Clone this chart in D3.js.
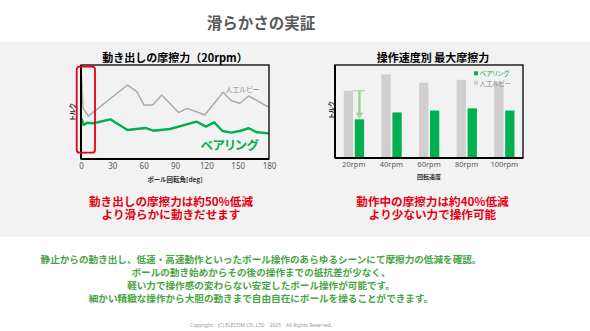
<!DOCTYPE html>
<html><head><meta charset="utf-8">
<script src="https://cdn.jsdelivr.net/npm/d3@7"></script>
<style>
html,body{margin:0;padding:0;background:#fff;}
body{position:relative;width:590px;height:331px;overflow:hidden;}
svg{display:block;font-family:"Noto Sans CJK JP","Noto Sans",sans-serif;}
.palt{font-feature-settings:"palt" 1;}
.cap{position:absolute;width:240px;text-align:center;font-family:"Noto Sans CJK JP",sans-serif;font-weight:bold;
  font-size:11.6px;line-height:12.9px;color:#e60012;white-space:nowrap;}
</style></head>
<body>
<svg id="c" width="590" height="331"></svg>
<script>
// ---- data ----
const lineDeg     = [0,2,7,44.5,53.4,60.4,68.7,77.3,93.5,101.7,118.6,136,144,152,160.6,180];
const rubyValues  = [97,54,45.7,78.7,71.6,57.4,57.4,68.1,49.5,53.9,46.8,71,62,59.3,67,55];
const bearDeg     = [0,0.8,2.5,5.7,12,28,44.5,61.4,69.3,85.2,110.7,119.6,127.5,135.5,144,152,160.6,168.5,180];
const bearValues  = [36.2,42.2,36.2,38.6,38,42.2,30.9,33,30.1,31.9,39.7,34.4,39,29.8,28,29.8,32.7,28.4,27.3];
const degTicks    = [0,30,60,90,120,150,180];

const speedCats   = ["20rpm","40rpm","60rpm","80rpm","100rpm"];
const rubyMax     = [72.3,90,81,84,82];
const bearMax     = [41.6,49,51,53.4,51];

const seriesNames = ["ベアリング","人工ルビー"];

const GREEN = "#00b050", GRAY_BAR = "#d0cece", GRAY_LINE = "#aaaaaa", RED = "#e60012";

const svg = d3.select("#c");
svg.append("rect").attr("x",0).attr("y",42).attr("width",590).attr("height",195).attr("fill","#f2f2f2");

svg.append("text").attr("x",261).attr("y",22).attr("text-anchor","middle").attr("dominant-baseline","central")
  .attr("font-size",15.5).attr("font-weight","bold").attr("fill","#595959").text("滑らかさの実証");

// ---------- Left chart ----------
const L = {x0:81, x1:269, y0:65, y1:159};
const xL = d3.scaleLinear().domain([0,180]).range([L.x0,L.x1]);
const yL = d3.scaleLinear().domain([0,100]).range([L.y1,L.y0]);
const gL = svg.append("g");
gL.append("text").attr("x",(L.x0+L.x1)/2).attr("y",56.5).attr("text-anchor","middle").attr("dominant-baseline","central")
  .attr("font-size",11).attr("font-weight","bold").attr("fill","#000").text("動き出しの摩擦力（20rpm）");

const line = d3.line().x(d=>xL(d[0])).y(d=>yL(d[1]));
gL.append("path").datum(lineDeg.map((d,i)=>[d,rubyValues[i]])).attr("d",line)
  .attr("fill","none").attr("stroke",GRAY_LINE).attr("stroke-width",1.5).attr("stroke-linejoin","round");
gL.append("path").datum(bearDeg.map((d,i)=>[d,bearValues[i]])).attr("d",line)
  .attr("fill","none").attr("stroke",GREEN).attr("stroke-width",2.4).attr("stroke-linejoin","round");

gL.append("rect").attr("x",L.x0).attr("y",L.y0).attr("width",L.x1-L.x0).attr("height",L.y1-L.y0)
  .attr("fill","none").attr("stroke","#000").attr("stroke-width",1.3);
gL.append("line").attr("x1",L.x0).attr("x2",L.x0).attr("y1",L.y0).attr("y2",L.y1).attr("stroke","#000").attr("stroke-width",2);
gL.append("line").attr("x1",L.x0).attr("x2",L.x1).attr("y1",L.y1).attr("y2",L.y1).attr("stroke","#000").attr("stroke-width",2);

gL.append("rect").attr("x",xL(0)-4.3).attr("y",66.7).attr("width",18.3).attr("height",86).attr("rx",3)
  .attr("fill","none").attr("stroke",RED).attr("stroke-width",1.8);

const axL = gL.append("g").attr("transform",`translate(0,${L.y1+4})`)
  .call(d3.axisBottom(xL).tickValues(degTicks).tickSize(0).tickPadding(0));
axL.select(".domain").remove();
axL.selectAll("text").attr("font-size",8).attr("fill","#595959").attr("font-family","'Noto Sans',sans-serif");

gL.append("text").attr("class","palt").attr("x",(L.x0+L.x1)/2).attr("y",178.5).attr("text-anchor","middle").attr("dominant-baseline","central")
  .attr("font-size",6.5).attr("font-weight","bold").attr("fill","#333").text("ボール回転角[deg]");
gL.append("text").attr("class","palt").attr("transform","translate(72,112) rotate(-90)").attr("text-anchor","middle").attr("dominant-baseline","central")
  .attr("font-size",6.5).attr("font-weight","bold").attr("fill","#333").text("トルク");

gL.append("text").attr("class","palt").attr("x",242.5).attr("y",88.5).attr("text-anchor","middle").attr("dominant-baseline","central")
  .attr("font-size",7).attr("fill","#8c8c8c").text(seriesNames[1]);
gL.append("text").attr("class","palt").attr("x",229.5).attr("y",144).attr("text-anchor","middle").attr("dominant-baseline","central")
  .attr("font-size",12.5).attr("font-weight","bold").attr("fill",GREEN).text(seriesNames[0]);

// ---------- Right chart ----------
const R = {x0:335, x1:523, y0:65, y1:158};
const xR = d3.scaleBand().domain(speedCats).range([R.x0,R.x1]).padding(0);
const yR = d3.scaleLinear().domain([0,100]).range([R.y1,R.y0]);
const gR = svg.append("g");
gR.append("text").attr("x",433).attr("y",56.5).attr("text-anchor","middle").attr("dominant-baseline","central")
  .attr("font-size",11).attr("font-weight","bold").attr("fill","#000").text("操作速度別 最大摩擦力");

const cx = c => xR(c)+xR.bandwidth()/2;
gR.selectAll(".rb").data(speedCats).enter().append("rect")
  .attr("x",c=>cx(c)-10).attr("width",9.3).attr("y",(c,i)=>yR(rubyMax[i])).attr("height",(c,i)=>R.y1-yR(rubyMax[i]))
  .attr("fill",GRAY_BAR);
gR.selectAll(".bb").data(speedCats).enter().append("rect")
  .attr("x",c=>cx(c)+1).attr("width",9.3).attr("y",(c,i)=>yR(bearMax[i])).attr("height",(c,i)=>R.y1-yR(bearMax[i]))
  .attr("fill",GREEN);

const ax = cx(speedCats[0])+5.6, aTop = yR(rubyMax[0]), aBot = yR(bearMax[0]);
const ARROW = "#a3d39c";
gR.append("line").attr("x1",cx(speedCats[0])-0.5).attr("x2",cx(speedCats[0])+11).attr("y1",aTop).attr("y2",aTop)
  .attr("stroke",ARROW).attr("stroke-width",1.2);
gR.append("line").attr("x1",ax).attr("x2",ax).attr("y1",aTop).attr("y2",aBot-6)
  .attr("stroke",ARROW).attr("stroke-width",2.6);
gR.append("path").attr("d",`M${ax-3.8},${aBot-6.5} L${ax+3.8},${aBot-6.5} L${ax},${aBot-0.5} Z`).attr("fill",ARROW);

// legend
const leg = [{n:seriesNames[0],c:GREEN,t:GREEN},{n:seriesNames[1],c:GRAY_BAR,t:"#7f7f7f"}];
leg.forEach((d,i)=>{
  const yy = 73.3 + i*9.5;
  gR.append("rect").attr("x",474).attr("y",yy-2).attr("width",4).attr("height",4).attr("fill",d.c);
  gR.append("text").attr("class","palt").attr("x",479.5).attr("y",yy).attr("dominant-baseline","central")
    .attr("font-size",6.5).attr("fill",d.t).text(d.n);
});

gR.append("rect").attr("x",R.x0).attr("y",R.y0).attr("width",R.x1-R.x0).attr("height",R.y1-R.y0)
  .attr("fill","none").attr("stroke","#000").attr("stroke-width",1.3);
gR.append("line").attr("x1",R.x0).attr("x2",R.x0).attr("y1",R.y0).attr("y2",R.y1).attr("stroke","#000").attr("stroke-width",2);
gR.append("line").attr("x1",R.x0).attr("x2",R.x1).attr("y1",R.y1).attr("y2",R.y1).attr("stroke","#000").attr("stroke-width",2);

const axR = gR.append("g").attr("transform",`translate(0,${R.y1+4})`)
  .call(d3.axisBottom(xR).tickSize(0).tickPadding(0));
axR.select(".domain").remove();
axR.selectAll("text").attr("font-size",7.5).attr("fill","#595959").attr("font-family","'Noto Sans',sans-serif");

gR.append("text").attr("x",429).attr("y",176.5).attr("text-anchor","middle").attr("dominant-baseline","central")
  .attr("font-size",6).attr("font-weight","bold").attr("fill","#333").text("回転速度");
gR.append("text").attr("class","palt").attr("transform","translate(331,110) rotate(-90)").attr("text-anchor","middle").attr("dominant-baseline","central")
  .attr("font-size",6.5).attr("font-weight","bold").attr("fill","#333").text("トルク");

// ---------- captions (HTML two-line blocks) ----------
const capData = [
  {x:171,   lines:["動き出しの摩擦力は約50%低減","より滑らかに動きだせます"]},
  {x:432.5, lines:["動作中の摩擦力は約40%低減","より少ない力で操作可能"]}
];
capData.forEach(c=>{
  const div = d3.select("body").append("div").attr("class","cap")
    .style("left",(c.x-120)+"px").style("top",(201.3-6.45)+"px");
  div.html(c.lines.join("<br>"));
});

const bottomLines = [
  "静止からの動き出し、低速・高速動作といったボール操作のあらゆるシーンにて摩擦力の低減を確認。",
  "ボールの動き始めからその後の操作までの抵抗差が少なく、",
  "軽い力で操作感の変わらない安定したボール操作が可能です。",
  "細かい精緻な操作から大胆の動きまで自由自在にボールを操ることができます。"
];
bottomLines.forEach((t,i)=>{
  svg.append("text").attr("x",261).attr("y",259+i*13).attr("text-anchor","middle").attr("dominant-baseline","central")
    .attr("font-size",9.6).attr("font-weight","bold").attr("fill","#48a444").text(t);
});

svg.append("text").attr("x",261).attr("y",325).attr("text-anchor","middle").attr("dominant-baseline","central")
  .attr("font-size",5).attr("fill","#999").attr("font-family","'Noto Sans',sans-serif")
  .text("Copyright　(C) ELECOM CO.,LTD　2025　All Rights Reserved.");
</script>
</body></html>
